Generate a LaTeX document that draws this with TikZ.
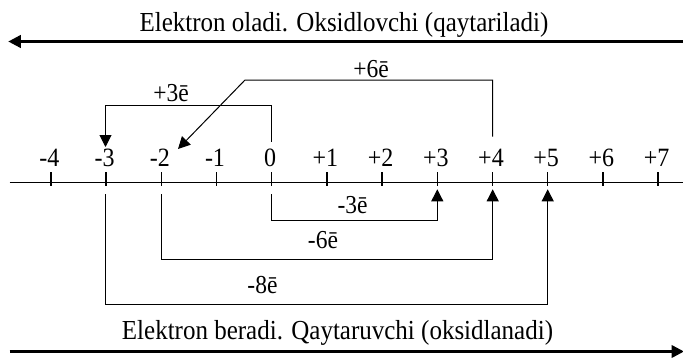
\documentclass[tikz,border=0pt]{standalone}
\usepackage{fontspec}
\setmainfont{Liberation Serif}
\usetikzlibrary{arrows.meta,calc}
\newcommand{\tallt}[1]{\scalebox{1}[1.1]{#1}}
\begin{document}
\begin{tikzpicture}[x=1pt,y=-1pt,
  thinline/.style={line width=1pt, draw=black},
  thinarrow/.style={thinline, -{Triangle[length=12pt,width=12pt]}},
  bigarrow/.style={line width=2.6pt, -{Triangle[length=12.5pt,width=12.5pt]}},
  axisline/.style={line width=1.5pt},
  tickmark/.style={line width=1.3pt},
  ticklab/.style={inner sep=0pt, anchor=base, font=\fontsize{24}{28}\selectfont},
  elab/.style={inner sep=0pt, anchor=base, font=\fontsize{23.5}{28}\selectfont},
  titletext/.style={inner sep=0pt, anchor=base, font=\fontsize{25}{30}\selectfont}]
\useasboundingbox (0,0) rectangle (683,357);

% titles and big arrows
\node[titletext] (toptext) at (344,31) {\tallt{Elektron oladi. Oksidlovchi (qaytariladi)}};
\coordinate (topR) at (683,41.5);
\coordinate (topL) at (8.3,41.5);
\draw[bigarrow] (topR) -- (topL);

\node[titletext] (bottext) at (337.5,339.3) {\tallt{Elektron beradi. Qaytaruvchi (oksidlanadi)}};
\coordinate (botL) at (9.6,351.5);
\coordinate (botR) at (684,351.5);
\draw[bigarrow] (botL) -- (botR);

% axis
\coordinate (axL) at (9.6,182.7);
\coordinate (axR) at (683,182.7);
\draw[axisline] (axL) -- (axR);
\foreach \n in {-4,...,7}{
  \coordinate (t\n) at ({271.7+55.2*\n},182.7);
  \draw[tickmark] (t\n) ++(0,-10.7) -- ++(0,14);
  \node[ticklab] (l\n) at ($(t\n)+(-1.5,-16)$) {\tallt{\ifnum\n>0 +\n\else\n\fi}};
}

% +3e bracket
\coordinate (p3a) at (271.7,141.7);
\coordinate (p3c) at (105.5,105.7);
\coordinate (p3tip) at (105.5,147);
\draw[thinarrow] (p3a) |- (p3c) -- (p3tip);
\node[elab] (p3lab) at (171,101.7) {\tallt{+3ē}};

% +6e bracket
\coordinate (p6a) at (492.7,136.7);
\coordinate (p6c) at (245,80);
\coordinate (p6tip) at (178,149);
\draw[thinarrow] (p6a) |- (p6c) -- (p6tip);
\node[elab] (p6lab) at (371,77) {\tallt{+6ē}};

% -3e bracket
\coordinate (m3a) at (271.7,194);
\coordinate (m3c) at (437.3,220);
\coordinate (m3tip) at (437.3,189.3);
\draw[thinarrow] (m3a) |- (m3c) -- (m3tip);
\node[elab] (m3lab) at (352.5,213.3) {\tallt{-3ē}};

% -6e bracket
\coordinate (m6a) at (161,194);
\coordinate (m6c) at (492.7,259.3);
\coordinate (m6tip) at (492.7,189.3);
\draw[thinarrow] (m6a) |- (m6c) -- (m6tip);
\node[elab] (m6lab) at (323,248.3) {\tallt{-6ē}};

% -8e bracket
\coordinate (m8a) at (105.5,194);
\coordinate (m8c) at (547.7,304);
\coordinate (m8tip) at (547.7,189.3);
\draw[thinarrow] (m8a) |- (m8c) -- (m8tip);
\node[elab] (m8lab) at (262.5,293.3) {\tallt{-8ē}};
\end{tikzpicture}
\end{document}
